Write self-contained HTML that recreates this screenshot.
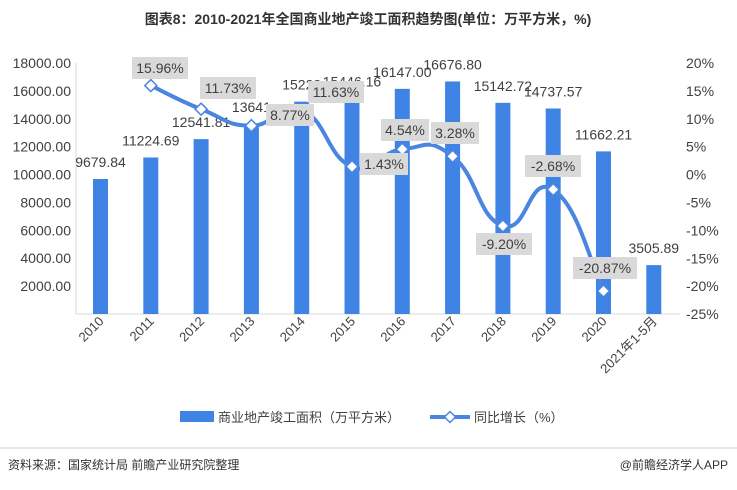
<!DOCTYPE html>
<html><head><meta charset="utf-8"><style>
body{margin:0;width:737px;height:485px;background:#fff;overflow:hidden;font-family:"Liberation Sans","Noto Sans CJK SC",sans-serif}
</style></head><body>
<svg id="s" width="737" height="485" xmlns="http://www.w3.org/2000/svg" font-family="Liberation Sans, Noto Sans CJK SC, sans-serif">
<text x="368" y="24" text-anchor="middle" font-size="14" font-weight="bold" fill="#333">图表8：2010-2021年全国商业地产竣工面积趋势图(单位：万平方米，%)</text>
<line x1="76" y1="63" x2="76" y2="314" stroke="#d9d9d9"/>
<line x1="76" y1="314" x2="680" y2="314" stroke="#d9d9d9"/>
<g id="g"></g>
<rect x="180" y="411" width="34" height="11" fill="#3f84e5"/>
<text x="218" y="422" font-size="13" fill="#404040">商业地产竣工面积（万平方米）</text>
<line x1="430" y1="417" x2="470" y2="417" stroke="#4a86e0" stroke-width="4"/>
<path d="M450 411.5 L455.5 417 L450 422.5 L444.5 417Z" fill="#fff" stroke="#4a86e0" stroke-width="1.5"/>
<text x="474" y="422" font-size="13" fill="#404040">同比增长（%）</text>
<line x1="0" y1="448" x2="737" y2="448" stroke="#ccc"/>
<text x="8" y="469" font-size="12" fill="#333">资料来源：国家统计局 前瞻产业研究院整理</text>
<text x="728" y="469" text-anchor="end" font-size="12" fill="#333">@前瞻经济学人APP</text>
</svg>
<script>
var g=document.getElementById('g'),h='';
var bars=[9679.84,11224.69,12541.81,13641,15228,15446.16,16147.00,16676.80,15142.72,14737.57,11662.21,3505.89];
var lbl=['9679.84','11224.69','12541.81','13641','15228','15446.16','16147.00','16676.80','15142.72','14737.57','11662.21','3505.89'];
var yr=['2010','2011','2012','2013','2014','2015','2016','2017','2018','2019','2020','2021年1-5月'];
function yl(v){return 314-v/18000*251}
function yp(p){return 174.6-p*5.578}
for(var i=1;i<=9;i++){var v=i*2000;h+='<text x="71" y="'+(yl(v)+5)+'" text-anchor="end" font-size="14" fill="#404040">'+v+'.00</text>';}
for(var p=20;p>=-25;p-=5){h+='<text x="686" y="'+(yp(p)+5)+'" font-size="14" fill="#404040">'+p+'%</text>';}
for(var i=0;i<12;i++){var cx=100.5+50.3*i,y=yl(bars[i]);
h+='<rect x="'+(cx-7.5)+'" y="'+y+'" width="15" height="'+(314-y)+'" fill="#3f84e5"/>';
h+='<text x="'+cx+'" y="'+(y-12)+'" text-anchor="middle" font-size="14" fill="#404040">'+lbl[i]+'</text>';
h+='<text transform="translate('+(cx+4)+',322) rotate(-45)" text-anchor="end" font-size="13" fill="#404040">'+yr[i]+'</text>';}
var pc=[15.96,11.73,8.77,11.63,1.43,4.54,3.28,-9.20,-2.68,-20.87];
var pts=pc.map(function(p,k){return [100.5+50.3*(k+1),yp(p)]});
var d='M'+pts[0][0]+' '+pts[0][1];
for(var k=0;k<pts.length-1;k++){var p0=pts[k-1]||pts[k],p1=pts[k],p2=pts[k+1],p3=pts[k+2]||p2,t=0.25;
d+=' C'+(p1[0]+(p2[0]-p0[0])*t)+' '+(p1[1]+(p2[1]-p0[1])*t)+' '+(p2[0]-(p3[0]-p1[0])*t)+' '+(p2[1]-(p3[1]-p1[1])*t)+' '+p2[0]+' '+p2[1];}
h+='<path d="'+d+'" fill="none" stroke="#4a86e0" stroke-width="4"/>';
pts.forEach(function(q){h+='<path d="M'+q[0]+' '+(q[1]-6)+' L'+(q[0]+6)+' '+q[1]+' L'+q[0]+' '+(q[1]+6)+' L'+(q[0]-6)+' '+q[1]+'Z" fill="#fff" stroke="#4a86e0" stroke-width="1.5"/>';});
var bx=[[160,68],[228,88],[290,115],[336,92],[384,164],[405,130],[455,133],[504,244],[553,166],[605,268]];
bx.forEach(function(b,k){var s=pc[k].toFixed(2)+'%',w=s.length*8+8;
h+='<rect x="'+(b[0]-w/2)+'" y="'+(b[1]-11)+'" width="'+w+'" height="22" fill="#d9d9d9"/>';
h+='<text x="'+b[0]+'" y="'+(b[1]+5)+'" text-anchor="middle" font-size="14" fill="#404040">'+s+'</text>';});
g.innerHTML=h;
</script>
</body></html>
